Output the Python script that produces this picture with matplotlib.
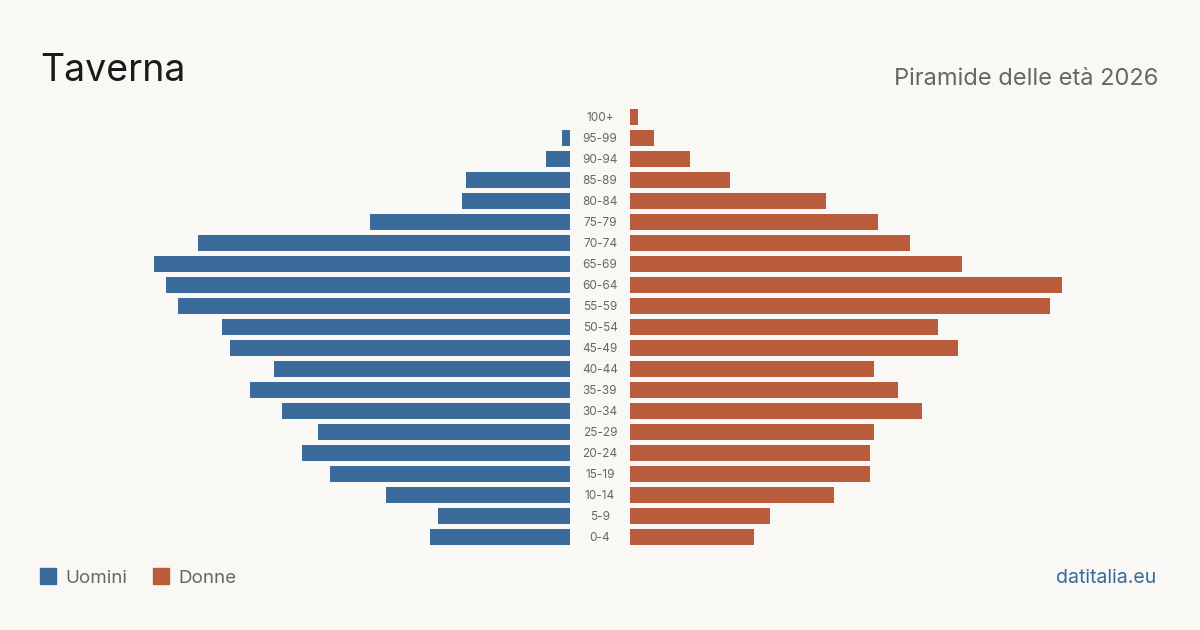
import matplotlib.pyplot as plt
from matplotlib.patches import Rectangle

# --- dati (persone per classe d'età, dal basso verso l'alto) ---
classi = ["0-4", "5-9", "10-14", "15-19", "20-24", "25-29", "30-34", "35-39",
          "40-44", "45-49", "50-54", "55-59", "60-64", "65-69", "70-74",
          "75-79", "80-84", "85-89", "90-94", "95-99", "100+"]
uomini = [35, 33, 46, 60, 67, 63, 72, 80, 74, 85, 87, 98, 101, 104, 93,
          50, 27, 26, 6, 2, 0]
donne = [31, 35, 51, 60, 60, 61, 73, 67, 61, 82, 77, 105, 108, 83, 70,
         62, 49, 25, 15, 6, 2]

# --- stile ---
BG = "#f9f8f4"
BLU = "#3b6b9b"
ROSSO = "#b85c3c"
GRIGIO = "#666666"
plt.rcParams['font.family'] = ['Inter', 'DejaVu Sans']

W, H = 1200, 630
fig = plt.figure(figsize=(12, 6.3), dpi=100, facecolor=BG)

xmax = 110
top_px, bot_px = 106.5, 547.5
ax_l = fig.add_axes([130 / W, 1 - bot_px / H, 440 / W, (bot_px - top_px) / H])
ax_r = fig.add_axes([630 / W, 1 - bot_px / H, 440 / W, (bot_px - top_px) / H])

y = list(range(len(classi)))
ax_l.barh(y, uomini, height=0.8, color=BLU)
ax_r.barh(y, donne, height=0.8, color=ROSSO)
ax_l.set_xlim(xmax, 0)
ax_r.set_xlim(0, xmax)

for ax in (ax_l, ax_r):
    ax.set_ylim(-0.5, len(classi) - 0.5)
    ax.set_facecolor("none")
    ax.axis("off")

# etichette classi d'età al centro
for i, c in enumerate(classi):
    ax_r.annotate(c, xy=(0, i), xytext=(-30, -1), textcoords="offset pixels",
                  ha="center", va="center", fontsize=8.5, color=GRIGIO)

# --- testi ---
fig.text(40 / W, 1 - 81 / H, "Taverna", fontsize=27, color="#1a1a1a",
         ha="left", va="baseline")
fig.text(1158 / W, 1 - 85 / H, "Piramide delle età 2026", fontsize=17,
         color=GRIGIO, ha="right", va="baseline")

# legenda
fig.patches.append(Rectangle((40 / W, 1 - 584 / H), 16 / W, 16 / H,
                             transform=fig.transFigure, color=BLU))
fig.text(65 / W, 1 - 583 / H, "Uomini", fontsize=13.5, color=GRIGIO,
         ha="left", va="baseline")
fig.patches.append(Rectangle((153 / W, 1 - 584 / H), 16 / W, 16 / H,
                             transform=fig.transFigure, color=ROSSO))
fig.text(178 / W, 1 - 583 / H, "Donne", fontsize=13.5, color=GRIGIO,
         ha="left", va="baseline")

fig.text(1156 / W, 1 - 583 / H, "datitalia.eu", fontsize=14, color="#3a6a9c",
         ha="right", va="baseline")

fig.savefig("out.png", dpi=100, facecolor=BG)
